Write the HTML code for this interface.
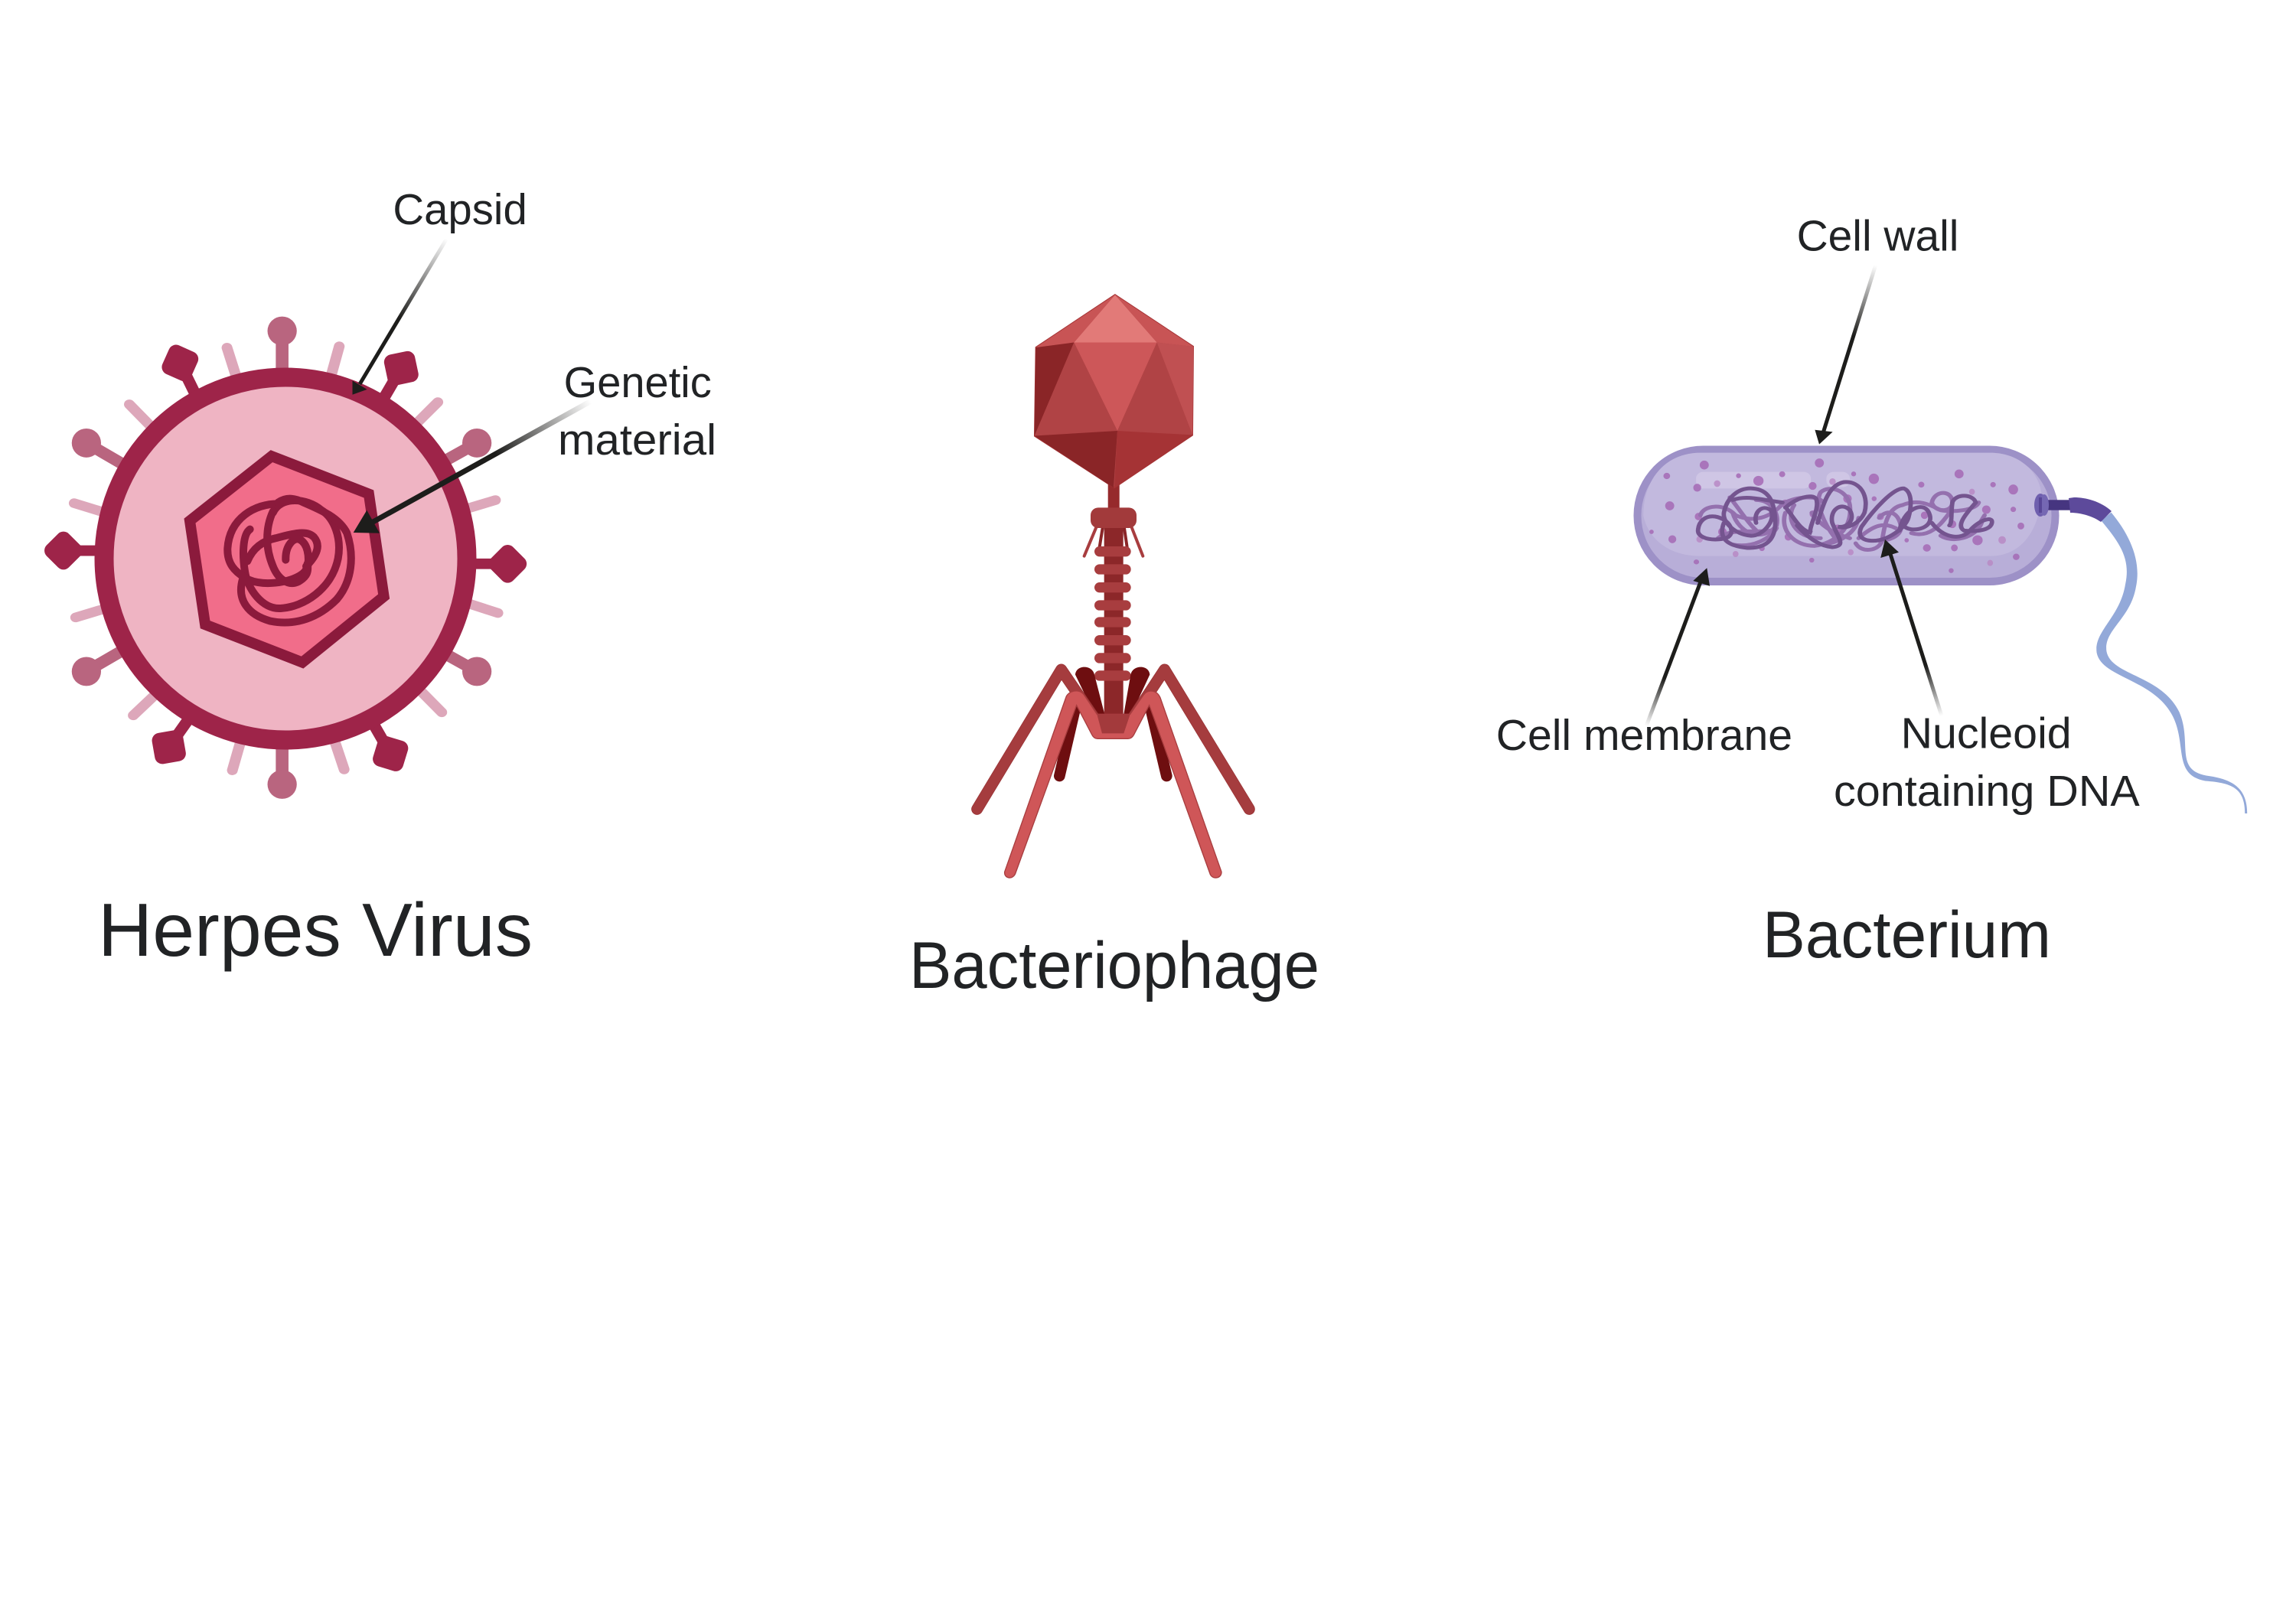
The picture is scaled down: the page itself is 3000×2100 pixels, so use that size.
<!DOCTYPE html>
<html><head><meta charset="utf-8"><style>html,body{margin:0;padding:0;background:#fff}svg{display:block}text{font-family:"Liberation Sans",sans-serif;fill:#212325}</style></head>
<body>
<svg xmlns="http://www.w3.org/2000/svg" width="3000" height="2100" viewBox="0 0 3000 2100">
<defs>
<linearGradient id="g1" gradientUnits="userSpaceOnUse" x1="583.6" y1="312" x2="520" y2="415"><stop offset="0" stop-color="#1d1d1b" stop-opacity="0"/><stop offset="1" stop-color="#1d1d1b"/></linearGradient>
<linearGradient id="g2" gradientUnits="userSpaceOnUse" x1="771.7" y1="524.4" x2="650" y2="597"><stop offset="0" stop-color="#1d1d1b" stop-opacity="0"/><stop offset="1" stop-color="#1d1d1b"/></linearGradient>
<linearGradient id="g3" gradientUnits="userSpaceOnUse" x1="2450.7" y1="346.5" x2="2425" y2="440"><stop offset="0" stop-color="#1d1d1b" stop-opacity="0"/><stop offset="1" stop-color="#1d1d1b"/></linearGradient>
<linearGradient id="g4" gradientUnits="userSpaceOnUse" x1="2151" y1="949" x2="2172" y2="885"><stop offset="0" stop-color="#1d1d1b" stop-opacity="0"/><stop offset="1" stop-color="#1d1d1b"/></linearGradient>
<linearGradient id="g5" gradientUnits="userSpaceOnUse" x1="2537" y1="935.6" x2="2515" y2="870"><stop offset="0" stop-color="#1d1d1b" stop-opacity="0"/><stop offset="1" stop-color="#1d1d1b"/></linearGradient>
</defs>

<!-- Herpes virus -->
<g transform="translate(0,200) scale(.6378,.5741)">
 <g stroke="#dda7ba" stroke-width="22" stroke-linecap="round">
  <path d="M465 443L487 520M695 440L675 520M897 567L840 630M1015 790L940 815M1020 1047L945 1020M905 1273L840 1200M705 1403L680 1320M476 1405L498 1320M273 1280L335 1215M155 1057L230 1032M152 797L225 822M265 572L325 640"/>
 </g>
 <g stroke="#b9657f" stroke-width="26" fill="#b9657f">
  <path d="M578 405V520M578 1437V1320M177 660L270 720M977 660L880 720M177 1180L270 1120M977 1180L880 1120"/>
  <g stroke="none">
   <ellipse cx="578" cy="405" rx="30" ry="33"/><ellipse cx="578" cy="1437" rx="30" ry="33"/>
   <ellipse cx="177" cy="660" rx="30" ry="33"/><ellipse cx="977" cy="660" rx="30" ry="33"/>
   <ellipse cx="177" cy="1180" rx="30" ry="33"/><ellipse cx="977" cy="1180" rx="30" ry="33"/>
  </g>
 </g>
 <g stroke="#9e2449" stroke-width="24" fill="none">
  <path d="M369 478L405 560M822 490L780 570M1040 935H950M346 1352L395 1275M800 1367L760 1290M130 905H220"/>
 </g>
</g>
<g fill="#9e2449">
 <rect x="-20.5" y="-20.5" width="41" height="41" rx="10" transform="translate(235.3,474.4) rotate(24)"/>
 <rect x="-20.5" y="-20.5" width="41" height="41" rx="10" transform="translate(524.3,481.3) rotate(-12)"/>
 <rect x="-20.5" y="-20.5" width="41" height="41" rx="10" transform="translate(663.3,736.8) rotate(45)"/>
 <rect x="-20.5" y="-20.5" width="41" height="41" rx="10" transform="translate(220.7,976.2) rotate(-10)"/>
 <rect x="-20.5" y="-20.5" width="41" height="41" rx="10" transform="translate(510.2,984.8) rotate(17)"/>
 <rect x="-20.5" y="-20.5" width="41" height="41" rx="10" transform="translate(82.9,719.5) rotate(45)"/>
</g>
<ellipse cx="373" cy="730" rx="237" ry="237" fill="#efb4c3" stroke="#9e2449" stroke-width="25"/>
<polygon points="354.9,596.1 481.9,645.5 501.6,779.5 395.1,865.6 268.1,816.2 248,680.6" fill="#f16d8a" stroke="#8b1a3c" stroke-width="14" stroke-linejoin="miter"/>
<g transform="translate(220,570) scale(.3333)" fill="none" stroke="#8b1a3c" stroke-width="30" stroke-linecap="round" stroke-linejoin="round">
 <path d="M320 365C290 385 290 470 300 530C310 600 370 680 440 675C530 670 640 600 665 480C680 400 650 320 600 290C540 240 440 235 410 300"/>
 <path d="M430 265C340 265 240 320 232 440C230 500 260 530 300 555C340 580 400 580 450 570C500 560 540 540 545 510"/>
 <path d="M540 510C580 470 600 430 570 395C540 365 480 385 420 400C370 410 330 440 310 490"/>
 <path d="M410 295C380 360 380 440 410 510C430 560 470 590 510 570C545 550 550 530 545 500"/>
 <path d="M290 565C270 640 310 700 400 725C500 745 590 710 660 640C720 570 730 470 700 380C670 320 600 290 530 260C490 240 460 240 430 260"/>
 <path d="M460 485C458 430 490 395 515 405C545 420 555 470 545 520"/>
</g>

<!-- Bacteriophage neck + head -->
<rect x="1447.7" y="625" width="15" height="42" fill="#962a2c"/>
<g transform="translate(1200,350) scale(.3333,.542)">
 <polygon points="771,65 1078,190 1075,403 768,530 455,405 460,192" fill="#b04345" stroke="#a53335" stroke-width="4"/>
 <polygon points="771,65 935,180 610,180" fill="#e27a78"/>
 <polygon points="771,65 610,180 460,192" fill="#c85455"/>
 <polygon points="771,65 1078,190 935,180" fill="#c85455"/>
 <polygon points="460,192 610,180 455,405" fill="#8a2527"/>
 <polygon points="610,180 935,180 780,393" fill="#cd5759"/>
 <polygon points="610,180 780,393 455,405" fill="#b04345"/>
 <polygon points="935,180 1075,403 780,393" fill="#b04345"/>
 <polygon points="935,180 1078,190 1075,403" fill="#c05052"/>
 <polygon points="455,405 780,393 765,530" fill="#8a2527"/>
 <polygon points="780,393 1075,403 768,530" fill="#a53335"/>
</g>
<!-- Phage tail -->
<g transform="translate(1400,640) scale(.3333)">
 <rect x="128" y="140" width="75" height="740" fill="#8c2729"/>
 <g stroke-width="12" stroke-linecap="round" fill="none">
  <path stroke="#a83d3f" d="M50 260L98 145M280 260L235 145"/>
  <path stroke="#8a2527" d="M110 225L122 150M218 225L207 150"/>
 </g>
 <rect x="75" y="70" width="180" height="80" rx="30" fill="#a23a3b"/>
 <g fill="#a83d3f">
  <rect x="90" y="222" width="143" height="40" rx="20"/><rect x="90" y="292" width="143" height="40" rx="20"/>
  <rect x="90" y="363" width="143" height="40" rx="20"/><rect x="90" y="433" width="143" height="40" rx="20"/>
  <rect x="90" y="499" width="143" height="40" rx="20"/><rect x="90" y="570" width="143" height="40" rx="20"/>
  <rect x="90" y="640" width="143" height="40" rx="20"/><rect x="90" y="709" width="143" height="40" rx="20"/>
 </g>
</g>
<!-- Phage legs -->
<g transform="translate(1270,850) scale(.3333)">
 <g fill="#6e0e10">
  <path d="M405 95C408 55 472 55 480 95L520 250H480Z"/>
  <path d="M697 95C694 55 630 55 622 95L595 250H625Z"/>
 </g>
 <g fill="none" stroke="#6e0e10" stroke-width="44" stroke-linecap="round">
  <path d="M405 225L343 492M700 225L763 492"/>
 </g>
 <g fill="none" stroke-linecap="round" stroke-linejoin="round">
  <path stroke="#963032" stroke-width="45" d="M20 622L350 75L490 280M1087 622L755 75L620 280"/>
  <path stroke="#a53c3e" stroke-width="41" d="M20 622L350 75L490 280M1087 622L755 75L620 280"/>
 </g>
 <path d="M128 868L368 185C375 160 420 145 440 175L490 250H620L672 175C690 150 725 155 738 185L978 868C980 895 940 900 933 875L695 215L635 330C628 342 620 346 612 346H492C484 346 476 342 470 330L410 215L170 875C160 900 125 895 128 868Z" fill="#cf5658" stroke="#a83d3f" stroke-width="4"/>
 <polygon points="490,250 620,250 595,325 510,325" fill="#a33a3c"/>
</g>

<!-- Bacterium flagellum -->
<path fill="#93a9d9" d="M2758.5 669.6C2783 699 2798 733 2791 766.4C2784 809 2748.5 823 2752.4 851C2758 883 2823.5 881.5 2847.5 930.5C2864.5 970 2841 1005.5 2882.6 1013.5C2917.5 1018 2936.2 1030 2936.2 1063L2933.2 1063C2933.2 1030 2916.5 1023 2881.4 1020.5C2839 1012.5 2857.5 973 2839 936C2814 887 2746 886 2739.6 853C2735.5 825 2770 807 2777 763.6C2784 731 2771 711 2745.5 680.4Z"/>
<rect x="2139.5" y="587.5" width="546" height="172.5" rx="86" ry="86" fill="#b8aed8" stroke="#9d91c7" stroke-width="10"/>
<g transform="translate(2130,570) scale(.3827,.3333)">
 <path d="M240 65H1230C1320 65 1395 130 1405 230C1395 380 1330 470 1230 470H240C130 470 60 400 45 310C45 170 120 65 240 65Z" fill="#c2b9de"/>
 <rect x="225" y="140" width="392" height="65" rx="25" fill="#cfc6e5"/>
 <rect x="670" y="140" width="80" height="60" rx="25" fill="#cfc6e5"/>
 <g fill="#a56ab5" stroke="#a56ab5" stroke-width="3" opacity=".85">
  <ellipse cx="253" cy="113" rx="14" ry="16"/><ellipse cx="646" cy="105" rx="14" ry="16"/><ellipse cx="125" cy="156" rx="10" ry="11"/><ellipse cx="370" cy="155" rx="7" ry="8"/><ellipse cx="438" cy="175" rx="16" ry="18"/><ellipse cx="519" cy="149" rx="9" ry="10"/><ellipse cx="229" cy="202" rx="12" ry="14"/><ellipse cx="623" cy="195" rx="12" ry="14"/><ellipse cx="763" cy="148" rx="7" ry="8"/><ellipse cx="832" cy="167" rx="16" ry="19"/><ellipse cx="1123" cy="148" rx="14" ry="16"/><ellipse cx="994" cy="190" rx="9" ry="10"/><ellipse cx="1239" cy="190" rx="8" ry="9"/><ellipse cx="1308" cy="209" rx="15" ry="18"/><ellipse cx="135" cy="273" rx="14" ry="16"/><ellipse cx="833" cy="245" rx="7" ry="8"/><ellipse cx="1308" cy="287" rx="8" ry="9"/><ellipse cx="1216" cy="288" rx="13" ry="15"/><ellipse cx="1334" cy="352" rx="10" ry="12"/><ellipse cx="144" cy="404" rx="12" ry="14"/><ellipse cx="73" cy="375" rx="6" ry="7"/><ellipse cx="1186" cy="408" rx="16" ry="18"/><ellipse cx="1013" cy="438" rx="12" ry="13"/><ellipse cx="1107" cy="438" rx="10" ry="12"/><ellipse cx="944" cy="408" rx="6" ry="7"/><ellipse cx="450" cy="440" rx="8" ry="9"/><ellipse cx="226" cy="493" rx="8" ry="8"/><ellipse cx="620" cy="486" rx="7" ry="8"/><ellipse cx="1318" cy="473" rx="10" ry="11"/><ellipse cx="1096" cy="527" rx="7" ry="8"/><ellipse cx="233" cy="315" rx="11" ry="13"/><ellipse cx="742" cy="245" rx="13" ry="15"/><ellipse cx="315" cy="375" rx="13" ry="15"/><ellipse cx="530" cy="265" rx="13" ry="15"/><ellipse cx="708" cy="365" rx="15" ry="17"/><ellipse cx="1005" cy="310" rx="11" ry="13"/><ellipse cx="1100" cy="345" rx="12" ry="14"/><ellipse cx="855" cy="315" rx="10" ry="12"/><ellipse cx="625" cy="305" rx="11" ry="13"/><ellipse cx="540" cy="395" rx="11" ry="13"/>
 </g>
 <g fill="#b98cc6" opacity=".9">
  <ellipse cx="297" cy="186" rx="11" ry="13"/><ellipse cx="691" cy="178" rx="11" ry="13"/><ellipse cx="1167" cy="218" rx="10" ry="12"/><ellipse cx="237" cy="404" rx="11" ry="13"/><ellipse cx="1270" cy="407" rx="13" ry="15"/><ellipse cx="360" cy="462" rx="10" ry="12"/><ellipse cx="753" cy="455" rx="10" ry="12"/><ellipse cx="1229" cy="497" rx="10" ry="12"/>
 </g>
 <g fill="none" stroke="#9470ae" stroke-width="15" stroke-linecap="round">
  <path d="M240 310C250 270 320 260 360 310C420 340 480 320 520 265C570 235 640 230 660 260"/>
  <path d="M350 300C370 380 450 420 500 350C510 300 480 250 430 250"/>
  <path d="M530 300C510 370 560 430 630 430C700 420 760 360 750 270C740 210 680 190 650 220C630 260 660 340 700 400"/>
  <path d="M770 420C790 460 850 450 860 410C870 340 880 280 930 270C990 240 1040 280 1060 290C1100 300 1180 290 1190 260"/>
  <path d="M1030 260C1040 210 1100 210 1100 260C1100 300 1040 300 1030 260"/>
  <path d="M1060 390C1100 420 1180 400 1200 340"/>
  <path d="M350 425C420 440 480 400 500 360M850 320C880 280 920 300 925 360C920 395 880 410 850 410"/>
  <path d="M340 240C370 280 400 340 440 380M560 270C530 320 560 400 650 400M780 400C830 350 870 330 920 370"/>
  <path d="M300 400C340 360 420 380 480 370M680 420C720 410 770 380 780 320M960 380C1020 400 1060 350 1090 300M1120 395C1170 385 1190 350 1210 310M620 300C650 350 690 380 750 400"/>
 </g>
 <g fill="none" stroke="#74548f" stroke-width="15" stroke-linecap="round">
  <path d="M232 365C225 405 300 415 335 395C360 375 340 325 290 315C255 310 235 335 232 365"/>
  <path d="M320 340C300 400 330 430 400 438C470 440 500 400 495 320C490 250 470 210 420 205C370 200 330 240 320 300C315 340 360 385 410 390C450 395 500 330 480 290C450 265 420 300 430 340"/>
  <path d="M350 250C400 230 450 250 520 260"/>
  <path d="M530 280C570 240 620 225 635 245C650 290 600 370 620 380C580 370 560 320 535 285"/>
  <path d="M640 340C660 260 680 190 730 180C790 175 815 240 800 300C780 350 730 365 710 355C740 360 770 330 750 290C720 255 680 290 690 340C710 400 740 430 690 435C640 430 600 390 570 350"/>
  <path d="M790 355C830 290 900 200 935 205C965 220 960 280 950 320C940 360 880 410 830 410C790 410 775 390 790 355"/>
  <path d="M920 370C930 290 1000 250 1020 300C1040 350 990 370 960 365C930 360 920 340 950 300"/>
  <path d="M1030 340C1070 400 1130 410 1160 370C1190 330 1240 310 1235 340C1230 370 1180 375 1140 370C1110 350 1150 300 1180 260C1170 225 1110 225 1100 260C1095 300 1100 340 1090 350"/>
 </g>
</g>
<!-- Hook -->
<rect x="2675" y="653.3" width="30" height="13.4" fill="#463580"/>
<path d="M2703 651L2710 650C2725 650 2745 655 2759 668L2745 682C2735 675 2720 670 2705 670Z" fill="#5d4a9b"/>
<ellipse cx="2666" cy="660" rx="8" ry="15" fill="#6f5fae"/>
<ellipse cx="2671" cy="660" rx="6" ry="14" fill="#7567b3"/>
<rect x="2664" y="650" width="4" height="20" fill="#584697"/>

<!-- Arrows -->
<g fill="none" stroke-width="5">
 <line x1="583.6" y1="312" x2="470" y2="502" stroke="url(#g1)"/>
 <line x1="771.7" y1="524.4" x2="482" y2="685" stroke="url(#g2)" stroke-width="7"/>
 <line x1="2450.7" y1="346.5" x2="2382" y2="566" stroke="url(#g3)"/>
 <line x1="2151" y1="949" x2="2224" y2="755" stroke="url(#g4)"/>
 <line x1="2537" y1="935.6" x2="2470" y2="724" stroke="url(#g5)"/>
</g>
<g fill="#1d1d1b">
 <polygon points="460.5,515.8 460.5,497.4 479.6,508.9"/>
 <polygon points="461.7,696 479.3,666.7 496,696.7"/>
 <polygon points="2377,580.6 2371.4,561.7 2394.6,564.4"/>
 <polygon points="2230.3,742.3 2212.3,759 2234,765.7"/>
 <polygon points="2463,705 2457.2,729 2481,721.7"/>
</g>

<!-- Labels -->
<g font-size="57">
 <text x="513.4" y="293" textLength="175.4" lengthAdjust="spacingAndGlyphs">Capsid</text>
 <text x="736.6" y="519" textLength="193.2" lengthAdjust="spacingAndGlyphs">Genetic</text>
 <text x="729" y="594" textLength="207" lengthAdjust="spacingAndGlyphs">material</text>
 <text x="2347.6" y="327.5" textLength="211.8" lengthAdjust="spacingAndGlyphs">Cell wall</text>
 <text x="1954.7" y="980" textLength="387.3" lengthAdjust="spacingAndGlyphs">Cell membrane</text>
 <text x="2483.6" y="977.5" textLength="223.1" lengthAdjust="spacingAndGlyphs">Nucleoid</text>
 <text x="2396" y="1053" textLength="399.8" lengthAdjust="spacingAndGlyphs">containing DNA</text>
</g>
<text x="128" y="1249" font-size="98" textLength="568" lengthAdjust="spacingAndGlyphs">Herpes Virus</text>
<text x="1188" y="1291" font-size="86" textLength="536" lengthAdjust="spacingAndGlyphs">Bacteriophage</text>
<text x="2303" y="1251" font-size="86" textLength="377" lengthAdjust="spacingAndGlyphs">Bacterium</text>
</svg>
</body></html>
